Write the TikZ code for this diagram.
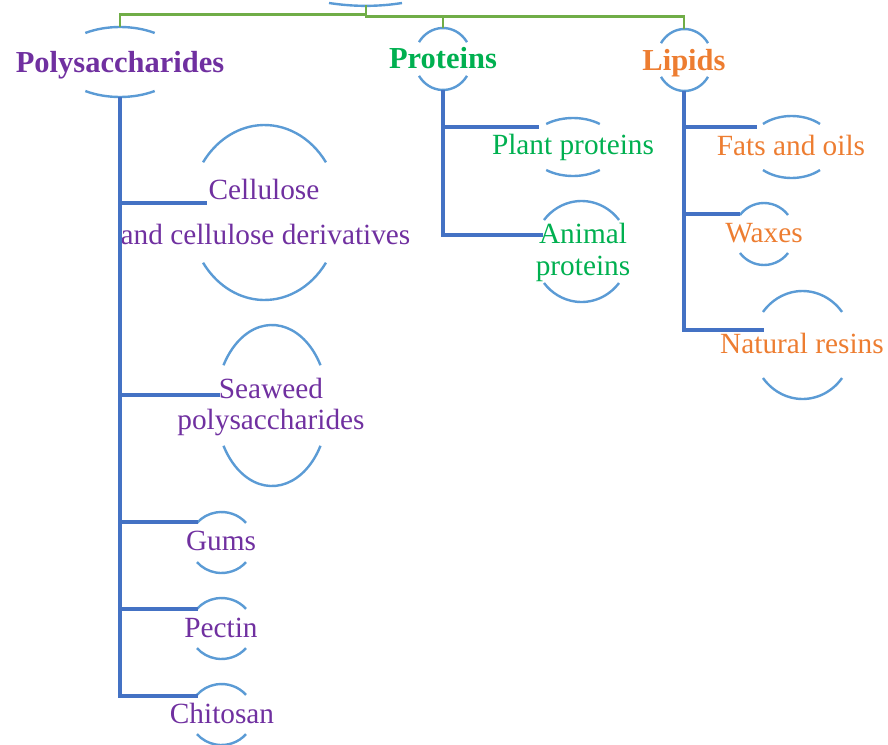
\documentclass[tikz,border=0pt]{standalone}
\usepackage{fontspec}
\setmainfont{Liberation Serif}
\definecolor{purp}{RGB}{112,48,160}
\definecolor{grn}{RGB}{0,176,80}
\definecolor{orng}{RGB}{237,125,49}
\definecolor{arcblue}{RGB}{91,155,213}
\definecolor{connblue}{RGB}{68,114,196}
\definecolor{topgreen}{RGB}{112,173,71}
\newcommand\ovalpair[4]{%
  \draw[arcline] ([shift={(#4:#2pt and #3pt)}]#1) arc[start angle=#4, end angle=180-#4, x radius=#2pt, y radius=#3pt];
  \draw[arcline] ([shift={(-#4:#2pt and #3pt)}]#1) arc[start angle=-#4, end angle=-180+#4, x radius=#2pt, y radius=#3pt];}
\begin{document}
\begin{tikzpicture}[x=1pt,y=1pt,
  arcline/.style={draw=arcblue, line width=2.4pt},
  conn/.style={draw=connblue, line width=3.1pt},
  topconn/.style={draw=topgreen, line width=2.9pt},
  txt/.style={inner sep=0pt, anchor=base, font=\fontsize{29.3}{33}\selectfont},
  head/.style={inner sep=0pt, anchor=base, font=\fontsize{30.5}{35}\selectfont\bfseries},
  lp/.style={txt, text=purp},
  lg/.style={txt, text=grn},
  lo/.style={txt, text=orng}]
\useasboundingbox (0,0) rectangle (888,-744);

% root (cut off at the top)
\coordinate (root) at (366,-5);
\draw[arcline] (329,-3) .. controls (354,-6.8) and (378,-6.8) .. (402,-3);

% heads
\coordinate (poly) at (120,-62);
\coordinate (prot) at (443,-59);
\coordinate (lip) at (684.5,-60);
\node[head, text=purp] (poly-t) at (120,-72) {Polysaccharides};
\node[head, text=grn] (prot-t) at (443,-68) {Proteins};
\node[head, text=orng] (lip-t) at (684,-70) {Lipids};
\ovalpair{poly}{62}{35}{56}
\ovalpair{prot}{28.6}{31}{33}
\ovalpair{lip}{28}{31}{33}
\coordinate (poly-n) at (120,-27);
\coordinate (prot-n) at (443,-28);
\coordinate (lip-n) at (684,-29);
\coordinate (poly-s) at (120,-97);
\coordinate (prot-s) at (443,-90);
\coordinate (lip-s) at (684,-91);

\draw[topconn] (root) -- ++(0,-9.3) -| (poly-n);
\draw[topconn] (root) -- ++(0,-11.3) -| (prot-n);
\draw[topconn] (root) -- ++(0,-11.3) -| (lip-n);

% polysaccharide children
\coordinate (cell) at (264.5,-212.5);
\coordinate (sea) at (272,-405.5);
\coordinate (gums) at (221.5,-542.5);
\coordinate (pect) at (221.5,-628.5);
\coordinate (chit) at (221.5,-714.5);
\ovalpair{cell}{75}{87.5}{35}
\ovalpair{sea}{56}{80.5}{30}
\ovalpair{gums}{32}{30.5}{40}
\ovalpair{pect}{32}{30.5}{40}
\ovalpair{chit}{32}{30.5}{40}
\node[lp] (cell-t1) at (264,-199) {Cellulose};
\node[lp] (cell-t2) at (265.5,-244) {and cellulose derivatives};
\node[lp] (sea-t1) at (271,-398) {Seaweed};
\node[lp] (sea-t2) at (271,-429) {polysaccharides};
\node[lp] (gums-t) at (221,-550) {Gums};
\node[lp] (pect-t) at (221,-637) {Pectin};
\node[lp] (chit-t) at (222,-723) {Chitosan};
\coordinate (cell-in) at (207,-203);
\coordinate (sea-in) at (220,-395);
\coordinate (gums-in) at (198,-522);
\coordinate (pect-in) at (198,-609);
\coordinate (chit-in) at (198,-696);
\foreach \c in {cell,sea,gums,pect,chit}
  \draw[conn] (poly-s) |- (\c-in);

% protein children
\coordinate (plant) at (573,-147);
\coordinate (anim) at (581.5,-251.5);
\ovalpair{plant}{44}{29}{52.5}
\ovalpair{anim}{48}{50.5}{38.6}
\node[lg] (plant-t) at (573,-154) {Plant proteins};
\node[lg] (anim-t1) at (583,-243) {Animal};
\node[lg] (anim-t2) at (583,-275) {proteins};
\coordinate (plant-in) at (539,-127);
\coordinate (anim-in) at (543,-235);
\foreach \c in {plant,anim}
  \draw[conn] (prot-s) |- (\c-in);

% lipid children
\coordinate (fats) at (791.5,-147);
\coordinate (wax) at (764,-234);
\coordinate (res) at (802.5,-345);
\ovalpair{fats}{42.6}{31}{48}
\ovalpair{wax}{30.4}{31}{37.8}
\ovalpair{res}{50}{54}{37.7}
\node[lo] (fats-t) at (791,-155) {Fats and oils};
\node[lo] (wax-t) at (764,-242) {Waxes};
\node[lo] (res-t) at (802,-353) {Natural resins};
\coordinate (fats-in) at (757,-127);
\coordinate (wax-in) at (740,-214);
\coordinate (res-in) at (764,-330);
\foreach \c in {fats,wax,res}
  \draw[conn] (lip-s) |- (\c-in);
\end{tikzpicture}
\end{document}
